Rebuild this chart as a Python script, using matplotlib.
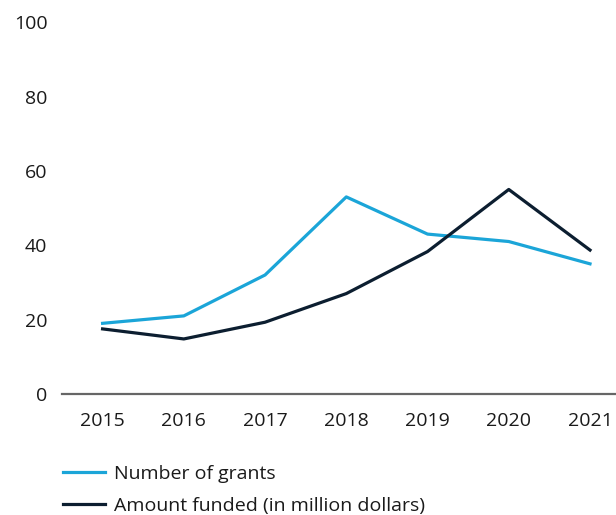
import matplotlib.pyplot as plt

years = [2015, 2016, 2017, 2018, 2019, 2020, 2021]
grants = [19, 21, 32, 53, 43, 41, 35]
funded = [17.5, 14.8, 19.3, 27, 38.3, 55, 38.7]

blue = "#1ba5d8"
navy = "#0c1e30"

plt.rcParams['font.family'] = ['Open Sans', 'DejaVu Sans']

fig = plt.figure(figsize=(6.16, 5.15), dpi=100)
ax = fig.add_axes([0.1006, 0.235, 0.8994, 0.722])

ax.plot(years, grants, color=blue, lw=2.3, label="Number of grants")
ax.plot(years, funded, color=navy, lw=2.3, label="Amount funded (in million dollars)")

ax.set_xlim(2014.5, 2021.32)
ax.set_ylim(0, 100)
ax.set_yticks([0, 20, 40, 60, 80, 100])
ax.set_xticks(years)

for s in ["top", "right", "left"]:
    ax.spines[s].set_visible(False)
ax.spines["bottom"].set_color("#666666")
ax.spines["bottom"].set_linewidth(1.6)
ax.tick_params(axis="both", length=0, labelsize=14, colors="#1a1a1a")
ax.tick_params(axis="y", pad=10.5)
ax.tick_params(axis="x", pad=13)

fig.legend(loc="upper left", bbox_to_anchor=(0.102, 0.097), frameon=False,
           fontsize=14, handlelength=2.15, handletextpad=0.5, labelspacing=0.7,
           borderaxespad=0, borderpad=0, labelcolor="#1a1a1a")

fig.savefig("out.png", dpi=100)
